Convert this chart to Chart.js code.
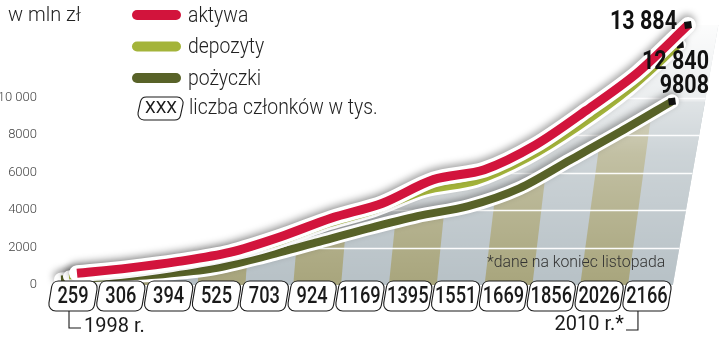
<!DOCTYPE html>
<html lang="pl">
<head>
<meta charset="utf-8">
<title>SKOK - aktywa, depozyty, pożyczki</title>
<script src="https://cdn.jsdelivr.net/npm/chart.js@4.4.1/dist/chart.umd.min.js"></script>
<style>
    html, body { margin: 0; padding: 0; background: #fff; }
    #wrap { width: 720px; height: 339px; position: relative; }
</style>
</head>
<body>
<div id="wrap"><canvas id="chart" width="720" height="339"></canvas></div>
<script>
// --- Data ---
const years = [1998, 1999, 2000, 2001, 2002, 2003, 2004, 2005, 2006, 2007, 2008, 2009, 2010];
const members = [259, 306, 394, 525, 703, 924, 1169, 1395, 1551, 1669, 1856, 2026, 2166];
const aktywa = [630, 900, 1260, 1740, 2580, 3580, 4370, 5630, 6160, 7470, 9320, 11320, 13884];
const depozyty = [450, 640, 1000, 1470, 2150, 3150, 3950, 4990, 5510, 6720, 8400, 10390, 12840];
const pozyczki = [300, 420, 580, 890, 1530, 2260, 3000, 3680, 4210, 5160, 6680, 8210, 9808];
const yTicks = [0, 2000, 4000, 6000, 8000, 10000];
const yTickLabels = ['0', '2000', '4000', '6000', '8000', '10 000'];
const endLabels = ['13 884', '12 840', '9808'];
const seriesNames = ['aktywa', 'depozyty', 'pożyczki'];
const colors = ['#d2143c', '#a4b43a', '#586228'];

const FONT = 'Roboto, "Open Sans", sans-serif';

// --- Helpers ---
const pts = arr => years.map((yr, i) => ({ x: yr, y: arr[i] }));
const lastOnly = r => years.map((_, i) => (i === years.length - 1 ? r : 0));

// follow the same bezier path Chart.js uses for a line
const trace = (ctx, els) => {
    ctx.lineTo(els[0].x, els[0].y);
    for (let i = 1; i < els.length; i++) {
        const a = els[i - 1], b = els[i];
        ctx.bezierCurveTo(a.cp2x, a.cp2y, b.cp1x, b.cp1y, b.x, b.y);
    }
};

const text = (ctx, str, x, y, font, color, align = 'left', sx = 1) => {
    ctx.save();
    ctx.font = font;
    ctx.fillStyle = color;
    ctx.textAlign = align;
    ctx.textBaseline = 'middle';
    ctx.translate(x, y);
    ctx.scale(sx, 1);
    ctx.fillText(str, 0, 0);
    ctx.restore();
};

// slanted tag with rounded corners (member-count boxes)
const tag = (ctx, x0, x1, top, h, skew, r) => {
    const p = [
        [x0 + skew, top], [x1 + skew, top],
        [x1 - skew, top + h], [x0 - skew, top + h]
    ];
    ctx.beginPath();
    ctx.moveTo((p[0][0] + p[1][0]) / 2, top);
    for (let i = 1; i <= 4; i++) {
        const c = p[i % 4], n = p[(i + 1) % 4];
        ctx.arcTo(c[0], c[1], n[0], n[1], r);
    }
    ctx.closePath();
    ctx.fillStyle = '#fff';
    ctx.fill();
    ctx.strokeStyle = '#1a1a1a';
    ctx.lineWidth = 1.1;
    ctx.stroke();
};

// --- Background wall with stripes + grid ---
const backdrop = {
    id: 'backdrop',
    beforeDatasetsDraw(chart) {
        const { ctx, chartArea, scales } = chart;
        const yS = scales.y, xB = scales.xB;
        const base = yS.getPixelForValue(0);
        const top = chartArea.top;
        const akt = chart.getDatasetMeta(0).data;
        const poz = chart.getDatasetMeta(4).data;
        const edgeX = y => xB.getPixelForValue(12.5) + 2 + 0.175 * (base - y);
        const left = chartArea.left + 3;

        const region = els => {
            ctx.beginPath();
            ctx.moveTo(left, base);
            trace(ctx, els);
            const e = els[els.length - 1];
            ctx.lineTo(edgeX(e.y), e.y);
            ctx.lineTo(edgeX(base), base);
            ctx.closePath();
        };

        ctx.save();
        region(akt);
        ctx.fillStyle = '#cfd5d8';
        ctx.fill();

        // stripes under the loans line
        ctx.save();
        region(poz);
        ctx.clip();
        ctx.fillStyle = '#b7c1c6';
        ctx.fillRect(chartArea.left, top, chartArea.width, base - top);
        ctx.fillStyle = '#a8a57c';
        const h = base - top;
        for (let i = 1; i < members.length; i += 2) {
            const x0 = xB.getPixelForValue(i - 0.5) + 5;
            const x1 = xB.getPixelForValue(i + 0.5) + 5;
            const k = 0.04 + 0.12 * (x0 - chartArea.left) / chartArea.width;
            ctx.beginPath();
            ctx.moveTo(x0, base);
            ctx.lineTo(x1, base);
            ctx.lineTo(x1 + k * h, top);
            ctx.lineTo(x0 + k * h, top);
            ctx.closePath();
            ctx.fill();
        }
        ctx.restore();

        // fade to white towards the top
        region(akt);
        ctx.clip();
        const g = ctx.createLinearGradient(0, base, 0, top + 10);
        g.addColorStop(0, 'rgba(255,255,255,0)');
        g.addColorStop(0.5, 'rgba(255,255,255,0.3)');
        g.addColorStop(1, 'rgba(255,255,255,0.95)');
        ctx.fillStyle = g;
        ctx.fillRect(chartArea.left, top, chartArea.width + 20, base - top);

        // white grid lines
        ctx.strokeStyle = 'rgba(255,255,255,0.95)';
        ctx.lineWidth = 1.5;
        yTicks.filter(v => v > 0).forEach(v => {
            const y = Math.round(yS.getPixelForValue(v)) + 0.5;
            ctx.beginPath();
            ctx.moveTo(chartArea.left, y);
            ctx.lineTo(chartArea.right + 10, y);
            ctx.stroke();
        });
        ctx.restore();
    }
};

// --- Soft shadow under white outlines ---
const lineShadow = {
    id: 'lineShadow',
    beforeDatasetDraw(chart, args) {
        if (!chart.data.datasets[args.index].outline) return;
        const ctx = chart.ctx;
        ctx.save();
        ctx.shadowColor = 'rgba(0,0,0,0.35)';
        ctx.shadowBlur = 7;
        ctx.shadowOffsetX = -1;
        ctx.shadowOffsetY = -3;
    },
    afterDatasetDraw(chart, args) {
        if (chart.data.datasets[args.index].outline) chart.ctx.restore();
    }
};

// --- Boxes, legend, labels ---
const annotations = {
    id: 'annotations',
    afterDatasetsDraw(chart) {
        const { ctx, scales } = chart;
        const xB = scales.xB;
        const boxTop = 281, boxH = 30;

        // member-count boxes
        members.forEach((m, i) => {
            const x0 = xB.getPixelForValue(i - 0.5);
            const x1 = xB.getPixelForValue(i + 0.5);
            tag(ctx, x0 + 1, x1 - 1, boxTop, boxH, 2.5, 7);
            text(ctx, String(m), (x0 + x1) / 2, boxTop + boxH / 2 + 1, `500 24px ${FONT}`, '#1a1a1a', 'center', 0.76);
        });

        // year brackets
        const first = xB.getPixelForValue(0) - 4;
        const last = xB.getPixelForValue(members.length - 1) - 9;
        ctx.save();
        ctx.strokeStyle = '#1a1a1a';
        ctx.lineWidth = 1.1;
        ctx.beginPath();
        ctx.moveTo(first, boxTop + boxH);
        ctx.lineTo(first, 328);
        ctx.lineTo(first + 12, 328);
        ctx.moveTo(last, boxTop + boxH);
        ctx.lineTo(last, 330);
        ctx.lineTo(last - 12, 330);
        ctx.stroke();
        ctx.restore();
        text(ctx, years[0] + ' r.', first + 15, 327, `400 20px ${FONT}`, '#1a1a1a', 'left', 1);
        text(ctx, years[years.length - 1] + ' r.*', last - 14, 325, `400 20px ${FONT}`, '#1a1a1a', 'right', 1);

        // end values
        const ends = [0, 2, 4].map(d => {
            const els = chart.getDatasetMeta(d).data;
            return els[els.length - 1];
        });
        text(ctx, endLabels[0], ends[0].x - 11, ends[0].y - 2, `700 25px ${FONT}`, '#111', 'right', 0.86);
        text(ctx, endLabels[1], ends[1].x + 29, ends[1].y + 18, `700 25px ${FONT}`, '#111', 'right', 0.86);
        text(ctx, endLabels[2], ends[2].x + 37, ends[2].y - 15, `700 25px ${FONT}`, '#111', 'right', 0.86);

        // unit + legend
        text(ctx, 'w mln zł', 8, 16, `300 20px ${FONT}`, '#222', 'left', 1);
        ctx.save();
        ctx.lineCap = 'round';
        ctx.lineWidth = 10;
        seriesNames.forEach((name, i) => {
            const y = 15 + i * 31.5;
            ctx.strokeStyle = colors[i];
            ctx.beginPath();
            ctx.moveTo(137, y);
            ctx.lineTo(176, y);
            ctx.stroke();
            text(ctx, name, 188, y + 1, `300 22px ${FONT}`, '#222', 'left', 0.88);
        });
        ctx.restore();
        tag(ctx, 139, 182, 97, 23, 2.5, 6);
        text(ctx, 'XXX', 161, 109, `400 17px ${FONT}`, '#1a1a1a', 'center', 1);
        text(ctx, 'liczba członków w tys.', 189, 108, `300 22px ${FONT}`, '#222', 'left', 0.88);

        // footnote
        text(ctx, '*dane na koniec listopada', 487, 263, `300 17px ${FONT}`, '#333', 'left', 0.93);
    }
};

// --- Chart ---
const lineSet = (arr, axis, color, width, order) => ({
    data: pts(arr),
    xAxisID: axis,
    borderColor: color,
    borderWidth: width,
    borderJoinStyle: 'round',
    tension: 0.3,
    pointRadius: lastOnly(5),
    pointStyle: 'rect',
    pointRotation: -8,
    pointBackgroundColor: '#111',
    pointBorderWidth: 0,
    clip: false,
    order
});
const outlineSet = (arr, axis, width, order) => ({
    data: pts(arr),
    xAxisID: axis,
    borderColor: '#fff',
    borderWidth: width,
    borderCapStyle: 'round',
    borderJoinStyle: 'round',
    tension: 0.3,
    pointRadius: 0,
    clip: false,
    outline: true,
    order
});

new Chart(document.getElementById('chart'), {
    type: 'line',
    data: {
        datasets: [
            lineSet(aktywa, 'xA', colors[0], 9, 0),
            outlineSet(aktywa, 'xA', 16, 1),
            lineSet(depozyty, 'xD', colors[1], 6, 2),
            outlineSet(depozyty, 'xD', 12, 3),
            lineSet(pozyczki, 'xP', colors[2], 8, 4),
            outlineSet(pozyczki, 'xP', 14, 5)
        ]
    },
    options: {
        responsive: false,
        animation: false,
        layout: { padding: { top: 8, bottom: 54, left: 0, right: 10 } },
        plugins: { legend: { display: false }, tooltip: { enabled: false } },
        scales: {
            xA: { type: 'linear', display: false, min: 1997.47, max: 2010.432 },
            xD: { type: 'linear', display: false, min: 1997.627, max: 2010.589 },
            xP: { type: 'linear', display: false, min: 1997.784, max: 2010.746 },
            xB: { type: 'linear', display: false, min: -0.481, max: 13.318 },
            y: {
                min: 0,
                max: 14540,
                position: 'left',
                afterFit: axis => { axis.width = 50; },
                afterBuildTicks: axis => { axis.ticks = yTicks.map(v => ({ value: v })); },
                ticks: {
                    padding: 5,
                    color: '#444',
                    font: { family: FONT, size: 13, weight: '300' },
                    callback: v => yTickLabels[yTicks.indexOf(v)]
                },
                grid: { display: false },
                border: { display: false }
            }
        }
    },
    plugins: [backdrop, lineShadow, annotations]
});
</script>
</body>
</html>
